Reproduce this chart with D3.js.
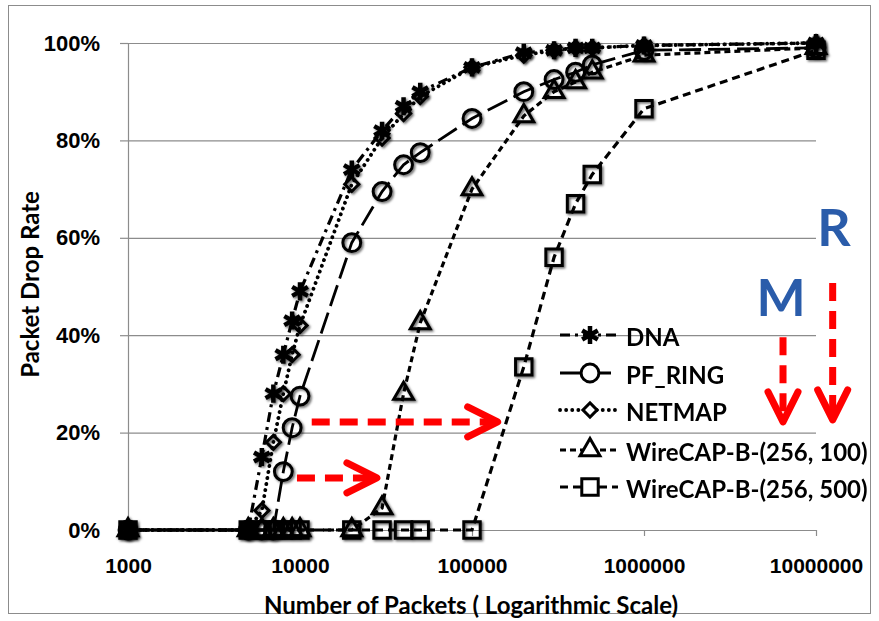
<!DOCTYPE html>
<html>
<head>
<meta charset="utf-8">
<script src="https://cdn.jsdelivr.net/npm/d3@7"></script>
<style>
  body { margin: 0; background: #fff; }
  svg { font-family: Lato, "Open Sans", sans-serif; font-weight: bold; }
</style>
</head>
<body>
<div id="chart"></div>
<script>
// data
const PACKETS = [1000, 5000, 6000, 7000, 8000, 9000, 10000, 20000, 30000, 40000,
                 50000, 100000, 200000, 300000, 400000, 500000, 1000000, 10000000];
const DNA      = [0, 0, 15, 28, 36, 43, 49, 74, 82, 87, 90, 95, 98, 98.5, 99, 99, 99.5, 100];
const PF_RING  = [0, 0, 0, 0, 12, 21, 27.5, 59, 69.5, 75, 77.5, 84.5, 90, 92.5, 94, 95.5, 98.5, 99];
const NETMAP   = [0, 0, 4, 18, 28, 36, 42, 71, 80.5, 85.5, 89, 95, 97.5, 98.5, 99, 99, 99.5, 100];
const WIRE_100 = [0, 0, 0, 0, 0, 0, 0, 0, 4.5, 28, 42.5, 70, 85, 90, 92, 94, 97.5, 99];
const WIRE_500 = [0, 0, 0, 0, 0, 0, 0, 0, 0, 0, 0, 0, 33.5, 56, 67, 73, 86.5, 98.5];
const SERIES_NAMES = ["DNA", "PF_RING", "NETMAP", "WireCAP-B-(256, 100)", "WireCAP-B-(256, 500)"];
const X_TICKS = [1000, 10000, 100000, 1000000, 10000000];
const Y_TICKS = [0, 20, 40, 60, 80, 100];

// frame
const FRAME_HEIGHT = 621;
const FRAME_WIDTH = 879;
const MARGINS = {left: 128, right: 63, top: 43, bottom: 91};
const VIS_HEIGHT = FRAME_HEIGHT - MARGINS.top - MARGINS.bottom;
const VIS_WIDTH = FRAME_WIDTH - MARGINS.left - MARGINS.right;

const FRAME1 = d3.select("#chart")
                  .append("svg")
                    .attr("height", FRAME_HEIGHT)
                    .attr("width", FRAME_WIDTH);

// soft excel-like shadow on markers
FRAME1.append("defs").append("filter")
        .attr("id", "shadow")
        .attr("x", "-50%").attr("y", "-50%").attr("width", "200%").attr("height", "200%")
      .append("feDropShadow")
        .attr("dx", 1.5).attr("dy", 1.5).attr("stdDeviation", 1.3)
        .attr("flood-opacity", 0.6);

// outer border
FRAME1.append("rect")
        .attr("x", 8.5).attr("y", 5.5)
        .attr("width", 862).attr("height", 608)
        .attr("fill", "none")
        .attr("stroke", "#8c8c8c")
        .attr("stroke-width", 1);

const X_SCALE = d3.scaleLog()
                  .domain([1000, 10000000])
                  .range([MARGINS.left, MARGINS.left + VIS_WIDTH]);

const Y_SCALE = d3.scaleLinear()
                  .domain([0, 100])
                  .range([MARGINS.top + VIS_HEIGHT, MARGINS.top]);

// gridlines
FRAME1.append("g")
        .attr("transform", "translate(" + MARGINS.left + ",0)")
        .call(d3.axisLeft(Y_SCALE).tickValues(Y_TICKS).tickSize(-VIS_WIDTH).tickFormat(""))
        .call(g => g.select(".domain").remove())
        .call(g => g.selectAll("line").attr("stroke", "#8c8c8c").attr("stroke-width", 1.2));

// y axis
FRAME1.append("g")
        .attr("transform", "translate(" + MARGINS.left + ",0)")
        .call(d3.axisLeft(Y_SCALE).tickValues(Y_TICKS).tickSize(8).tickSizeOuter(0)
                .tickPadding(20).tickFormat(d => d + "%"))
        .call(g => g.selectAll("line, path").attr("stroke", "#8c8c8c").attr("stroke-width", 1.2))
        .call(g => g.selectAll("text").attr("font-size", 22).attr("font-family", null)
                      .attr("fill", "#000"));

// x axis
FRAME1.append("g")
        .attr("transform", "translate(0," + (MARGINS.top + VIS_HEIGHT) + ")")
        .call(d3.axisBottom(X_SCALE).tickValues(X_TICKS).tickSize(6).tickSizeOuter(0)
                .tickPadding(22).tickFormat(d3.format("d")))
        .call(g => g.selectAll("line, path").attr("stroke", "#8c8c8c").attr("stroke-width", 1.2))
        .call(g => g.selectAll("text").attr("font-size", 21).attr("font-family", null)
                      .attr("fill", "#000"));

// axis titles
FRAME1.append("text")
        .attr("transform", "translate(29," + (MARGINS.top + VIS_HEIGHT / 2 - 2) + ") rotate(-90)")
        .attr("text-anchor", "middle")
        .attr("dominant-baseline", "central")
        .attr("font-size", 24)
        .text("Packet Drop Rate");

FRAME1.append("text")
        .attr("x", 471).attr("y", 604)
        .attr("text-anchor", "middle")
        .attr("dominant-baseline", "central")
        .attr("font-size", 24)
        .text("Number of Packets ( Logarithmic Scale)");

// series styling
const STYLES = [
  {values: DNA,      dash: "10,5,3,5", width: 3.2, symbol: d3.symbolAsterisk, size: 230, rot: 0},
  {values: PF_RING,  dash: "22,7",     width: 2.8, symbol: d3.symbolCircle,   size: 250, rot: 0},
  {values: NETMAP,   dash: "0.1,6",    width: 3.8, symbol: d3.symbolSquare,   size: 100, rot: 45},
  {values: WIRE_100, dash: "6,4",      width: 3.2, symbol: d3.symbolTriangle, size: 170, rot: 0},
  {values: WIRE_500, dash: "8,5",      width: 3.2, symbol: d3.symbolSquare,   size: 270, rot: 0}
];

const LINE = d3.line()
                .x(d => X_SCALE(d.x))
                .y(d => Y_SCALE(d.y));

// draw last series first so DNA lands on top
STYLES.slice().reverse().forEach(s => {
  const pts = PACKETS.map((p, i) => ({x: p, y: s.values[i]}));

  FRAME1.append("path")
          .datum(pts)
          .attr("d", LINE)
          .attr("fill", "none")
          .attr("stroke", "#000")
          .attr("stroke-width", s.width)
          .attr("stroke-dasharray", s.dash)
          .attr("stroke-linecap", s.dash === "0.1,6" ? "round" : "butt");

  FRAME1.append("g")
          .attr("filter", "url(#shadow)")
        .selectAll("path")
          .data(pts)
          .enter().append("path")
            .attr("d", d3.symbol().type(s.symbol).size(s.size))
            .attr("transform", d => "translate(" + X_SCALE(d.x) + "," + Y_SCALE(d.y) + ") rotate(" + s.rot + ")")
            .attr("fill", "none")
            .attr("stroke", "#000")
            .attr("stroke-width", s.symbol === d3.symbolAsterisk ? 4.5 : 3);
});

// legend
const LEGEND_Y = [335, 373, 410, 450, 487];
const LEGEND = FRAME1.append("g");
STYLES.forEach((s, i) => {
  const y = LEGEND_Y[i];
  LEGEND.append("line")
          .attr("x1", 560).attr("x2", 618)
          .attr("y1", y).attr("y2", y)
          .attr("stroke", "#000")
          .attr("stroke-width", s.width)
          .attr("stroke-dasharray", s.dash)
          .attr("stroke-linecap", s.dash === "0.1,6" ? "round" : "butt");
  LEGEND.append("path")
          .attr("d", d3.symbol().type(s.symbol).size(s.size))
          .attr("transform", "translate(590," + y + ") rotate(" + s.rot + ")")
          .attr("fill", "#fff")
          .attr("stroke", "#000")
          .attr("stroke-width", s.symbol === d3.symbolAsterisk ? 4.5 : 3);
  LEGEND.append("text")
          .attr("x", 626).attr("y", y + 1)
          .attr("dominant-baseline", "central")
          .attr("font-size", 24)
          .text(SERIES_NAMES[i]);
});

// red arrows, in data units
const ARROWS = [
  {x0: 9600,    y0: 10.7, x1: 28000,   y1: 10.7},
  {x0: 11700,   y0: 22.2, x1: 141000,  y1: 22.2},
  {x0: 6430000, y0: 39.6, x1: 6430000, y1: 22.2},
  {x0: 12500000, y0: 50.7, x1: 12500000, y1: 22.6}
];
ARROWS.forEach(a => {
  const x0 = X_SCALE(a.x0), y0 = Y_SCALE(a.y0), x1 = X_SCALE(a.x1), y1 = Y_SCALE(a.y1);
  const ang = Math.atan2(y1 - y0, x1 - x0);
  const back = 30, side = 15;
  const bx = x1 - back * Math.cos(ang), by = y1 - back * Math.sin(ang);
  const px = -Math.sin(ang) * side, py = Math.cos(ang) * side;
  FRAME1.append("line")
          .attr("x1", x0).attr("y1", y0)
          .attr("x2", x1 - 6 * Math.cos(ang)).attr("y2", y1 - 6 * Math.sin(ang))
          .attr("stroke", "#ff0000")
          .attr("stroke-width", 7)
          .attr("stroke-dasharray", "18,10");
  FRAME1.append("path")
          .attr("d", "M" + (bx + px) + "," + (by + py) + "L" + x1 + "," + y1 + "L" + (bx - px) + "," + (by - py))
          .attr("fill", "none")
          .attr("stroke", "#ff0000")
          .attr("stroke-width", 7)
          .attr("stroke-linecap", "round")
          .attr("stroke-linejoin", "round");
});

// letters over the vertical arrows
FRAME1.append("text")
        .attr("x", 781).attr("y", 296)
        .attr("text-anchor", "middle")
        .attr("dominant-baseline", "central")
        .attr("font-size", 52)
        .attr("fill", "#2a5caa")
        .text("M");
FRAME1.append("text")
        .attr("x", 834).attr("y", 226)
        .attr("text-anchor", "middle")
        .attr("dominant-baseline", "central")
        .attr("font-size", 52)
        .attr("fill", "#2a5caa")
        .text("R");
</script>
</body>
</html>
